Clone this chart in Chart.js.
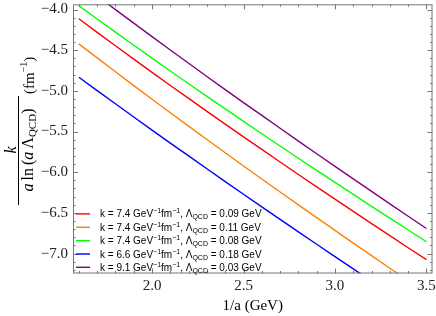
<!DOCTYPE html>
<html><head><meta charset="utf-8">
<script src="https://cdn.jsdelivr.net/npm/chart.js@4"></script>
<style>html,body{margin:0;padding:0;background:#fff}#wrap{width:436px;height:316px}</style>
</head><body><div id="wrap"><canvas id="c" width="436" height="316"></canvas></div>
<script>
const xValues = [1.6,1.7,1.8,1.9,2.0,2.1,2.2,2.3,2.4,2.5,2.6,2.7,2.8,2.9,3.0,3.1,3.2,3.3,3.4,3.5];
const redSeries    = [-4.114,-4.281,-4.446,-4.610,-4.773,-4.934,-5.093,-5.252,-5.409,-5.565,-5.720,-5.874,-6.028,-6.180,-6.331,-6.481,-6.631,-6.780,-6.928,-7.075];
const orangeSeries = [-4.422,-4.595,-4.765,-4.935,-5.103,-5.269,-5.434,-5.598,-5.761,-5.923,-6.083,-6.243,-6.401,-6.559,-6.715,-6.871,-7.026,-7.180,-7.333,-7.485];
const greenSeries  = [-3.952,-4.116,-4.278,-4.439,-4.598,-4.756,-4.912,-5.068,-5.222,-5.375,-5.527,-5.678,-5.828,-5.977,-6.125,-6.273,-6.419,-6.565,-6.710,-6.855];
const blueSeries   = [-4.833,-4.997,-5.159,-5.321,-5.482,-5.642,-5.800,-5.958,-6.115,-6.271,-6.426,-6.580,-6.734,-6.886,-7.038,-7.189,-7.339,-7.488,-7.636,-7.784];
const purpleSeries = [-3.661,-3.832,-4.001,-4.168,-4.334,-4.498,-4.661,-4.823,-4.984,-5.144,-5.302,-5.460,-5.617,-5.773,-5.928,-6.082,-6.236,-6.389,-6.541,-6.692];
const kValues = ['7.4','7.4','7.4','6.6','9.1'];
const lambdaValues = ['0.09','0.11','0.08','0.18','0.03'];
const xTicks = [2.0,2.5,3.0,3.5];
const yTicks = [-7.0,-6.5,-6.0,-5.5,-5.0,-4.5,-4.0];

const colors = ['#ff0000','#ff8000','#00ff00','#0000ff','#800080'];
const series = [redSeries, orangeSeries, greenSeries, blueSeries, purpleSeries];
const datasets = series.map((s,i)=>({
  data: s.map((y,j)=>({x:xValues[j], y:y})),
  borderColor: colors[i], borderWidth: 1.4, pointRadius: 0, tension: 0, fill: false
}));

const SERIF = '"Liberation Serif","Times New Roman",serif';
const SANS = '"Liberation Sans",Arial,sans-serif';
const minus = s => s.replace('-', '\u2212');

function richWidth(ctx, parts){
  let w=0; for(const p of parts){ctx.font=p.f; w+=ctx.measureText(p.t).width + (p.gap||0);} return w;
}
function richDraw(ctx, parts, x, y){
  for(const p of parts){ctx.font=p.f; ctx.fillText(p.t, x, y+(p.dy||0)); x+=ctx.measureText(p.t).width + (p.gap||0);} return x;
}

const frame = {
  id:'frame',
  afterDraw(chart){
    const ctx=chart.ctx, a=chart.chartArea, xs=chart.scales.x, ys=chart.scales.y;
    ctx.save();
    ctx.strokeStyle='#777'; ctx.lineWidth=1;
    ctx.strokeRect(a.left+0.5, a.top+0.5, a.right-a.left-1, a.bottom-a.top-1);
    ctx.beginPath();
    for(let i=16;i<=35;i++){
      const v=i/10, px=Math.round(xs.getPixelForValue(v))+0.5;
      const L = (i%5===0)?5:2.5;
      ctx.moveTo(px,a.bottom); ctx.lineTo(px,a.bottom-L);
      ctx.moveTo(px,a.top); ctx.lineTo(px,a.top+L);
    }
    for(let i=-72;i<=-40;i++){
      const v=i/10, py=Math.round(ys.getPixelForValue(v))+0.5;
      const L = (i%5===0)?5:2.5;
      ctx.moveTo(a.left,py); ctx.lineTo(a.left+L,py);
      ctx.moveTo(a.right,py); ctx.lineTo(a.right-L,py);
    }
    ctx.stroke();

    // legend
    ctx.fillStyle='#000'; ctx.textBaseline='alphabetic'; ctx.textAlign='left';
    const rowY=[213.9,227.3,240.7,254.0,267.3];
    for(let i=0;i<5;i++){
      const y=rowY[i];
      ctx.strokeStyle=colors[i]; ctx.lineWidth=1.4;
      ctx.beginPath(); ctx.moveTo(76,y); ctx.lineTo(90,y); ctx.stroke();
      const parts=[
        {t:'k = '+kValues[i]+' GeV', f:'10px '+SANS},
        {t:'\u22121', f:'7px '+SANS, dy:-4},
        {t:'fm', f:'10px '+SANS},
        {t:'\u22121', f:'7px '+SANS, dy:-4},
        {t:', \u039B', f:'10px '+SANS},
        {t:'QCD', f:'7px '+SANS, dy:2},
        {t:' = '+lambdaValues[i]+' GeV', f:'10px '+SANS}
      ];
      richDraw(ctx, parts, 100, y+3.5);
    }

    // x title
    ctx.fillStyle='#000';
    ctx.font='15px '+SERIF; ctx.textAlign='center';
    ctx.fillText('1/a (GeV)', (a.left+a.right)/2, 310);

    // y title (rotated)
    ctx.save();
    ctx.rotate(-Math.PI/2);
    ctx.textAlign='left';
    const cu=-150;
    ctx.font='italic 16px '+SERIF;
    const kw=ctx.measureText('k').width;
    ctx.fillText('k', cu-kw/2, 15.5);
    ctx.strokeStyle='#000'; ctx.lineWidth=1;
    ctx.beginPath(); ctx.moveTo(-205,18.5); ctx.lineTo(-96,18.5); ctx.stroke();
    const den=[
      {t:'a', f:'italic 16px '+SERIF, gap:3},
      {t:'ln', f:'16px '+SERIF, gap:3},
      {t:'(', f:'16px '+SERIF},
      {t:'a', f:'italic 16px '+SERIF, gap:3},
      {t:'\u039B', f:'16px '+SERIF},
      {t:'QCD', f:'11px '+SERIF, dy:3},
      {t:')', f:'16px '+SERIF}
    ];
    const dw=richWidth(ctx,den);
    richDraw(ctx, den, cu-dw/2, 33);
    const unit=[
      {t:'(fm', f:'15px '+SERIF},
      {t:'\u22121', f:'10px '+SERIF, dy:-7},
      {t:')', f:'15px '+SERIF}
    ];
    richDraw(ctx, unit, -94, 34);
    ctx.restore();
    ctx.restore();
  }
};

new Chart(document.getElementById('c'), {
  type:'line',
  data:{datasets},
  options:{
    responsive:false, animation:false, events:[],
    layout:{padding:{left:0,right:3.5,top:4.3,bottom:0}},
    plugins:{legend:{display:false}, tooltip:{enabled:false}},
    scales:{
      x:{type:'linear', min:1.568, max:3.533,
        afterBuildTicks(s){s.ticks=xTicks.map(v=>({value:v}));},
        afterFit(s){s.height=42.5; s.paddingLeft=0; s.paddingRight=0;},
        grid:{display:false, drawTicks:false}, border:{display:false},
        ticks:{padding:4, color:'#222', font:{family:SERIF,size:15}, maxRotation:0,
          callback:v=>v.toFixed(1)}
      },
      y:{type:'linear', min:-7.245, max:-3.936,
        afterBuildTicks(s){s.ticks=yTicks.map(v=>({value:v}));},
        afterFit(s){s.width=73; s.paddingTop=0; s.paddingBottom=0;},
        grid:{display:false, drawTicks:false}, border:{display:false},
        ticks:{padding:5, color:'#222', font:{family:SERIF,size:15},
          callback:v=>minus(v.toFixed(1))}
      }
    }
  },
  plugins:[frame]
});
</script></body></html>
